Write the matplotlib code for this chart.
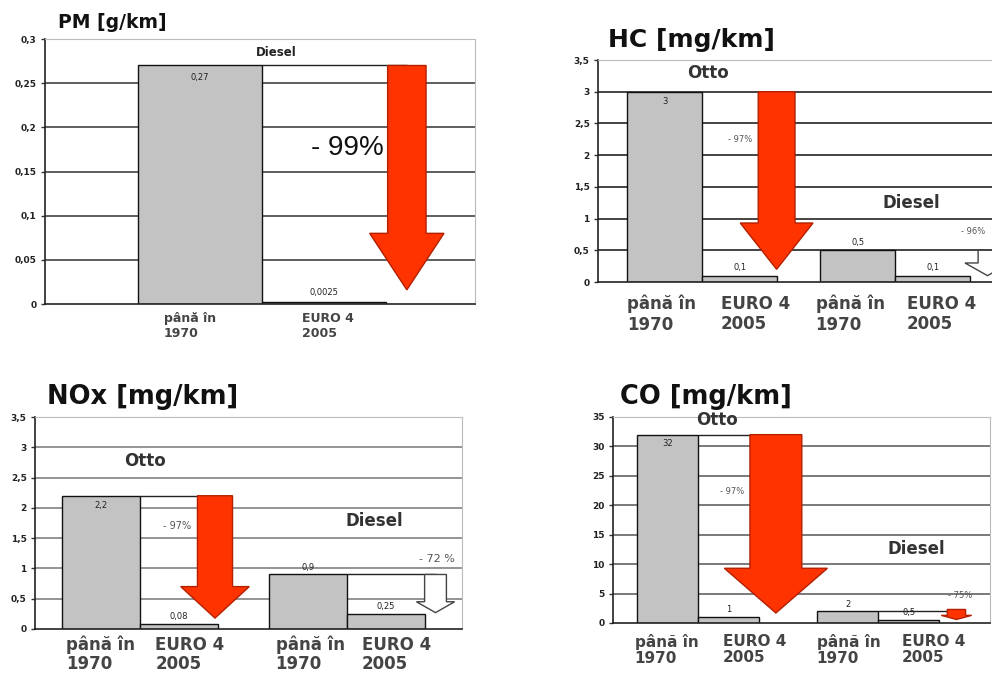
import matplotlib.pyplot as plt
from matplotlib.patches import FancyArrow

# ---- data ----
pm_labels = ["până în\n1970", "EURO 4\n2005"]
pm_values = [0.27, 0.0025]
pm_value_text = ["0,27", "0,0025"]
pm_yticks = [0, 0.05, 0.10, 0.15, 0.20, 0.25, 0.30]

cat_labels = ["până în\n1970", "EURO 4\n2005", "până în\n1970", "EURO 4\n2005"]

hc_values = [3.0, 0.1, 0.5, 0.1]
hc_value_text = ["3", "0,1", "0,5", "0,1"]
hc_yticks = [0, 0.5, 1, 1.5, 2, 2.5, 3, 3.5]

nox_values = [2.2, 0.08, 0.9, 0.25]
nox_value_text = ["2,2", "0,08", "0,9", "0,25"]
nox_yticks = [0, 0.5, 1, 1.5, 2, 2.5, 3, 3.5]

co_values = [32, 1, 2, 0.5]
co_value_text = ["32", "1", "2", "0,5"]
co_yticks = [0, 5, 10, 15, 20, 25, 30, 35]

W, H = 992, 679
fig = plt.figure(figsize=(W / 100, H / 100), dpi=100)
fig.patch.set_facecolor("white")

BAR = "#c3c3c3"
RED = "#ff3300"
RED_EDGE = "#b32000"


def add_ax(x0, y0, x1, y1):
    # pixel box (top-left origin) -> figure fraction
    return fig.add_axes([x0 / W, 1 - y1 / H, (x1 - x0) / W, (y1 - y0) / H])


def fmt(t):
    return f"{t:g}".replace(".", ",")


def panel(ax, pos, values, texts, yticks, xlim, tickpos, labels, label_size,
          grid_color, pad=8, spacing=1.2):
    ymax = yticks[-1]
    ax.set_xlim(*xlim)
    ax.set_ylim(0, ymax)
    for t in yticks[1:-1]:
        ax.axhline(t, color=grid_color, lw=1.1, zorder=1)
    ax.bar(pos, values, width=1.0, color=BAR, edgecolor="#111", lw=1, zorder=2)
    for p, v, s in zip(pos, values, texts):
        if v > 0.5 * ymax:
            ax.text(p, v - 0.045 * ymax, s, ha="center", va="center",
                    fontsize=6, color="#222", zorder=5)
        else:
            ax.text(p, v + 0.035 * ymax, s, ha="center", va="center",
                    fontsize=6, color="#222", zorder=5)
    ax.set_yticks(yticks)
    ax.set_yticklabels([fmt(t) for t in yticks], fontsize=6.5,
                       fontweight="bold", color="#222")
    ax.set_xticks(tickpos)
    ax.set_xticklabels(labels, fontsize=label_size, fontweight="bold",
                       color="#444444", linespacing=spacing, multialignment="left")
    ax.tick_params(axis="x", length=0, pad=pad)
    ax.tick_params(axis="y", length=3, width=1, color="#333", pad=3)
    for side in ("top", "right"):
        ax.spines[side].set_color("#bbbbbb")
    for side in ("left", "bottom"):
        ax.spines[side].set_color("#222")
        ax.spines[side].set_linewidth(1.2)


def down_arrow(ax, x, top, tip, shaft_w, head_w, head_top, fc=RED, ec=RED_EDGE):
    ax.add_patch(FancyArrow(x, top, 0, tip - top, width=shaft_w, head_width=head_w,
                            head_length=head_top - tip, length_includes_head=True,
                            fc=fc, ec=ec, lw=1, zorder=4))


# ---- PM ----
ax = add_ax(45, 39, 475, 304)
pm_pos = [0, 1]
panel(ax, pm_pos, pm_values, pm_value_text, pm_yticks, (-1.25, 2.22),
      [-0.08, 1.03], pm_labels, 9, "#333", pad=6)
ax.hlines(pm_values[0], pm_pos[0] + 0.5, 1.67, color="#222", lw=1, zorder=2)
down_arrow(ax, 1.67, pm_values[0], 0.016, 0.31, 0.6, 0.08)
ax.text(0.62, 0.285, "Diesel", ha="center", va="center", fontsize=8.5,
        fontweight="bold", color="#222")
ax.text(1.19, 0.177, "- 99%", ha="center", va="center", fontsize=20,
        family="Liberation Sans", color="#111", zorder=5)
fig.text(58 / W, 1 - 22 / H, "PM [g/km]", fontsize=13.5, fontweight="bold",
         va="center", ha="left", color="#111")

# ---- HC ----
ax = add_ax(598, 60, 992, 282)
hc_pos = [0, 1, 2.57, 3.57]
panel(ax, hc_pos, hc_values, hc_value_text, hc_yticks, (-0.89, 4.36),
      [-0.04, 1.21, 2.47, 3.69], cat_labels, 12, "#111", pad=9)
ax.spines["right"].set_visible(False)
down_arrow(ax, 1.49, hc_values[0], 0.2, 0.49, 0.97, 0.93)
down_arrow(ax, 4.3, hc_values[2], 0.1, 0.25, 0.6, 0.3, fc="white", ec="#444")
ax.text(0.57, 3.3, "Otto", ha="center", va="center", fontsize=12,
        fontweight="bold", color="#333")
ax.text(3.29, 1.25, "Diesel", ha="center", va="center", fontsize=12,
        fontweight="bold", color="#333")
ax.text(1.0, 2.24, "- 97%", ha="center", va="center", fontsize=6, color="#555")
ax.text(3.95, 0.8, "- 96%", ha="left", va="center", fontsize=6, color="#555")
fig.text(608 / W, 1 - 40 / H, "HC [mg/km]", fontsize=18, fontweight="bold",
         va="center", ha="left", color="#111")

# ---- NOx ----
ax = add_ax(35, 417, 462, 629)
nox_pos = [0, 1, 2.65, 3.65]
panel(ax, nox_pos, nox_values, nox_value_text, nox_yticks, (-0.85, 4.63),
      [-0.01, 1.14, 2.68, 3.79], cat_labels, 12, "#777", pad=5, spacing=1.05)
ax.hlines(nox_values[0], nox_pos[0] + 0.5, 1.46, color="#222", lw=1, zorder=2)
ax.hlines(nox_values[2], nox_pos[2] + 0.5, 4.29, color="#222", lw=1, zorder=2)
down_arrow(ax, 1.46, nox_values[0], 0.18, 0.45, 0.88, 0.7)
down_arrow(ax, 4.29, nox_values[2], 0.27, 0.28, 0.49, 0.45, fc="white", ec="#444")
ax.text(0.56, 2.78, "Otto", ha="center", va="center", fontsize=12,
        fontweight="bold", color="#333")
ax.text(3.51, 1.78, "Diesel", ha="center", va="center", fontsize=12,
        fontweight="bold", color="#333")
ax.text(0.97, 1.7, "- 97%", ha="center", va="center", fontsize=7, color="#555")
ax.text(4.31, 1.15, "- 72 %", ha="center", va="center", fontsize=8, color="#555")
fig.text(47 / W, 1 - 397 / H, "NOx [mg/km]", fontsize=18.5, fontweight="bold",
         va="center", ha="left", color="#111")

# ---- CO ----
ax = add_ax(613, 417, 990, 623)
co_pos = [0, 1, 2.96, 3.96]
panel(ax, co_pos, co_values, co_value_text, co_yticks, (-0.89, 5.29),
      [-0.01, 1.43, 2.97, 4.37], cat_labels, 11, "#555", pad=8, spacing=1.1)
ax.hlines(co_values[0], co_pos[0] + 0.5, 1.78, color="#222", lw=1, zorder=2)
ax.hlines(co_values[2], co_pos[2] + 0.5, 4.74, color="#222", lw=1, zorder=2)
down_arrow(ax, 1.78, co_values[0], 1.7, 0.85, 1.69, 9.3)
down_arrow(ax, 4.74, co_values[2] + 0.3, 0.6, 0.3, 0.5, 1.3)
ax.text(0.81, 34.5, "Otto", ha="center", va="center", fontsize=12,
        fontweight="bold", color="#333")
ax.text(4.09, 12.6, "Diesel", ha="center", va="center", fontsize=12,
        fontweight="bold", color="#333")
ax.text(1.06, 22.4, "- 97%", ha="center", va="center", fontsize=6, color="#555")
ax.text(4.8, 4.6, "- 75%", ha="center", va="center", fontsize=6, color="#555")
fig.text(620 / W, 1 - 397 / H, "CO [mg/km]", fontsize=18.5, fontweight="bold",
         va="center", ha="left", color="#111")

plt.savefig("out.png", dpi=100, facecolor="white")
